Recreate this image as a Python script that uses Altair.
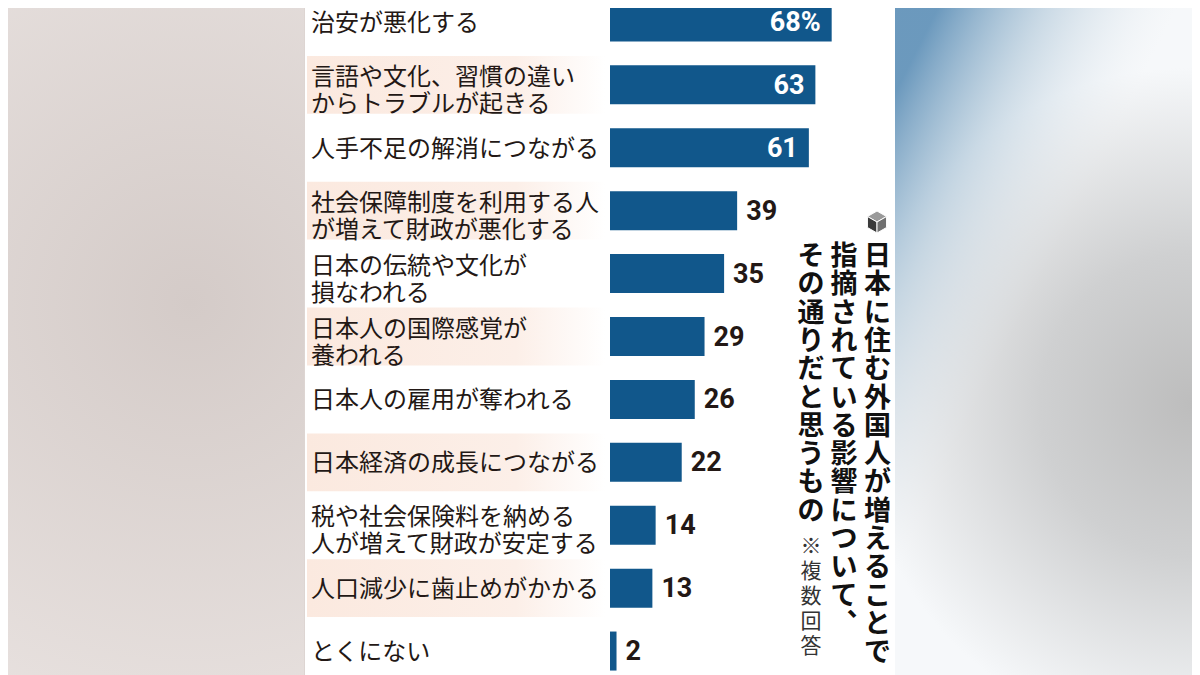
import altair as alt
import pandas as pd

# survey items (top to bottom) and share of respondents, %
LABELS = [
    "治安が悪化する",
    "言語や文化、習慣の違い\nからトラブルが起きる",
    "人手不足の解消につながる",
    "社会保障制度を利用する人\nが増えて財政が悪化する",
    "日本の伝統や文化が\n損なわれる",
    "日本人の国際感覚が\n養われる",
    "日本人の雇用が奪われる",
    "日本経済の成長につながる",
    "税や社会保険料を納める\n人が増えて財政が安定する",
    "人口減少に歯止めがかかる",
    "とくにない",
]
VALUES = [68, 63, 61, 39, 35, 29, 26, 22, 14, 13, 2]
VALUE_TEXT = ["68%", "63", "61", "39", "35", "29", "26", "22", "14", "13", "2"]

# vertical title, one string per column (right to left)
TITLE_COLUMNS = ["日本に住む外国人が増えることで", "指摘されている影響について︑", "その通りだと思うもの"]
NOTE = "※複数回答"

BLUE = "#11578b"
INK = "#231815"
JP = "Noto Sans CJK JP"

df = pd.DataFrame({"label": LABELS, "value": VALUES, "vtext": VALUE_TEXT})
df["shade"] = [i % 2 == 1 for i in range(len(df))]
df["two_lines"] = df["label"].str.contains("\n")
one = pd.DataFrame({"k": [0]})

x_scale = alt.Scale(domain=[0, 100], range=[305, 631])
y_scale = alt.Scale(domain=LABELS, range=[-17.5, 674.5], paddingInner=0.38, paddingOuter=0.19)
row_scale = alt.Scale(domain=LABELS, range=[-17.5, 674.5], paddingInner=0.08, paddingOuter=0.04)

# blurred photo backdrop on both sides of the panel
left_bg = alt.Chart(one).mark_rect(
    color=alt.RadialGradient(
        gradient="radial", x1=0.55, y1=0.45, r1=0, x2=0.55, y2=0.45, r2=0.8,
        stops=[alt.GradientStop(offset=0, color="#d4cbc8"),
               alt.GradientStop(offset=1, color="#ece6e4")])
).encode(x=alt.value(-297), x2=alt.value(-1), y=alt.value(-8), y2=alt.value(667))

right_bg = alt.Chart(one).mark_rect(
    color=alt.RadialGradient(
        gradient="radial", x1=0.72, y1=0.6, r1=0, x2=0.72, y2=0.6, r2=0.5,
        stops=[alt.GradientStop(offset=0, color="#bdbdbd"),
               alt.GradientStop(offset=0.45, color="#cfd0d1"),
               alt.GradientStop(offset=1, color="#f6f8fa")])
).encode(x=alt.value(590), x2=alt.value(887), y=alt.value(-8), y2=alt.value(667))

right_blue = alt.Chart(one).mark_rect(
    color=alt.LinearGradient(
        gradient="linear", x1=0.1, y1=0.05, x2=0.45, y2=0.45,
        stops=[alt.GradientStop(offset=0, color="rgba(100,148,186,0.95)"),
               alt.GradientStop(offset=0.45, color="rgba(165,192,212,0.55)"),
               alt.GradientStop(offset=1, color="rgba(225,232,238,0)")])
).encode(x=alt.value(590), x2=alt.value(887), y=alt.value(-8), y2=alt.value(667))

rows = alt.Chart(df).transform_filter("datum.shade").mark_rect(
    color=alt.LinearGradient(
        gradient="linear", x1=0, y1=0, x2=1, y2=0,
        stops=[alt.GradientStop(offset=0, color="#fbe9df"),
               alt.GradientStop(offset=0.7, color="#fcefe8"),
               alt.GradientStop(offset=1, color="#ffffff")])
).encode(
    x=alt.value(2), x2=alt.value(300),
    y=alt.Y("label:N", scale=row_scale, axis=None),
)

bars = alt.Chart(df).mark_bar(color=BLUE).encode(
    x=alt.X("value:Q", scale=x_scale, axis=None),
    y=alt.Y("label:N", scale=y_scale, axis=None),
)


def label_layer(cond, dy):
    return alt.Chart(df).transform_filter(cond).mark_text(
        align="left", baseline="middle", font=JP, fontSize=24, lineHeight=27,
        lineBreak="\n", color=INK, dy=dy
    ).encode(
        x=alt.value(6),
        y=alt.Y("label:N", scale=y_scale, axis=None),
        text="label:N",
    )


labels_one = label_layer("!datum.two_lines", 2)
labels_two = label_layer("datum.two_lines", -7)

inside = alt.Chart(df).transform_filter("datum.value >= 50").mark_text(
    align="right", baseline="middle", font="Roboto", fontWeight="bold",
    fontSize=27, color="white", dx=-11, dy=1
).encode(
    x=alt.X("value:Q", scale=x_scale, axis=None),
    y=alt.Y("label:N", scale=y_scale, axis=None),
    text="vtext:N",
)

outside = alt.Chart(df).transform_filter("datum.value < 50").mark_text(
    align="left", baseline="middle", font="Roboto", fontWeight="bold",
    fontSize=27, color=INK, dx=9, dy=1
).encode(
    x=alt.X("value:Q", scale=x_scale, axis=None),
    y=alt.Y("label:N", scale=y_scale, axis=None),
    text="vtext:N",
)

title_x = [572.5, 539, 506]
title_layers = [
    alt.Chart(one).mark_text(
        text=list(col), align="center", baseline="top", font=JP, fontWeight="bold",
        fontSize=27, lineHeight=28.3, color="#111111"
    ).encode(x=alt.value(tx), y=alt.value(236))
    for col, tx in zip(TITLE_COLUMNS, title_x)
]
note = alt.Chart(one).mark_text(
    text=list(NOTE), align="center", baseline="top", font=JP,
    fontSize=21, lineHeight=25, color="#333333"
).encode(x=alt.value(506), y=alt.value(528))

# little cube icon above the title
cube = []
for path, fill in [
    ("M0,-1 L0.87,-0.5 L0,0 L-0.87,-0.5 Z", "#9a9a9a"),
    ("M-0.87,-0.5 L0,0 L0,1 L-0.87,0.5 Z", "#3a3a3a"),
    ("M0.87,-0.5 L0,0 L0,1 L0.87,0.5 Z", "#707070"),
]:
    cube.append(alt.Chart(one).mark_point(
        shape=path, filled=True, fill=fill, stroke="white", strokeWidth=1,
        size=484, opacity=1
    ).encode(x=alt.value(572), y=alt.value(214)))

chart = alt.layer(
    left_bg, right_bg, right_blue, rows, bars, labels_one, labels_two,
    inside, outside, *title_layers, note, *cube
).resolve_scale(y="independent").properties(
    width=590,
    height=667,
    autosize=alt.AutoSizeParams(type="none"),
    padding={"left": 297, "right": 297, "top": 0, "bottom": 0},
    background="#ddd5d2",
).configure_view(fill="white", stroke=None)

chart.save("out.html", embed_options={"renderer": "svg", "actions": False})
